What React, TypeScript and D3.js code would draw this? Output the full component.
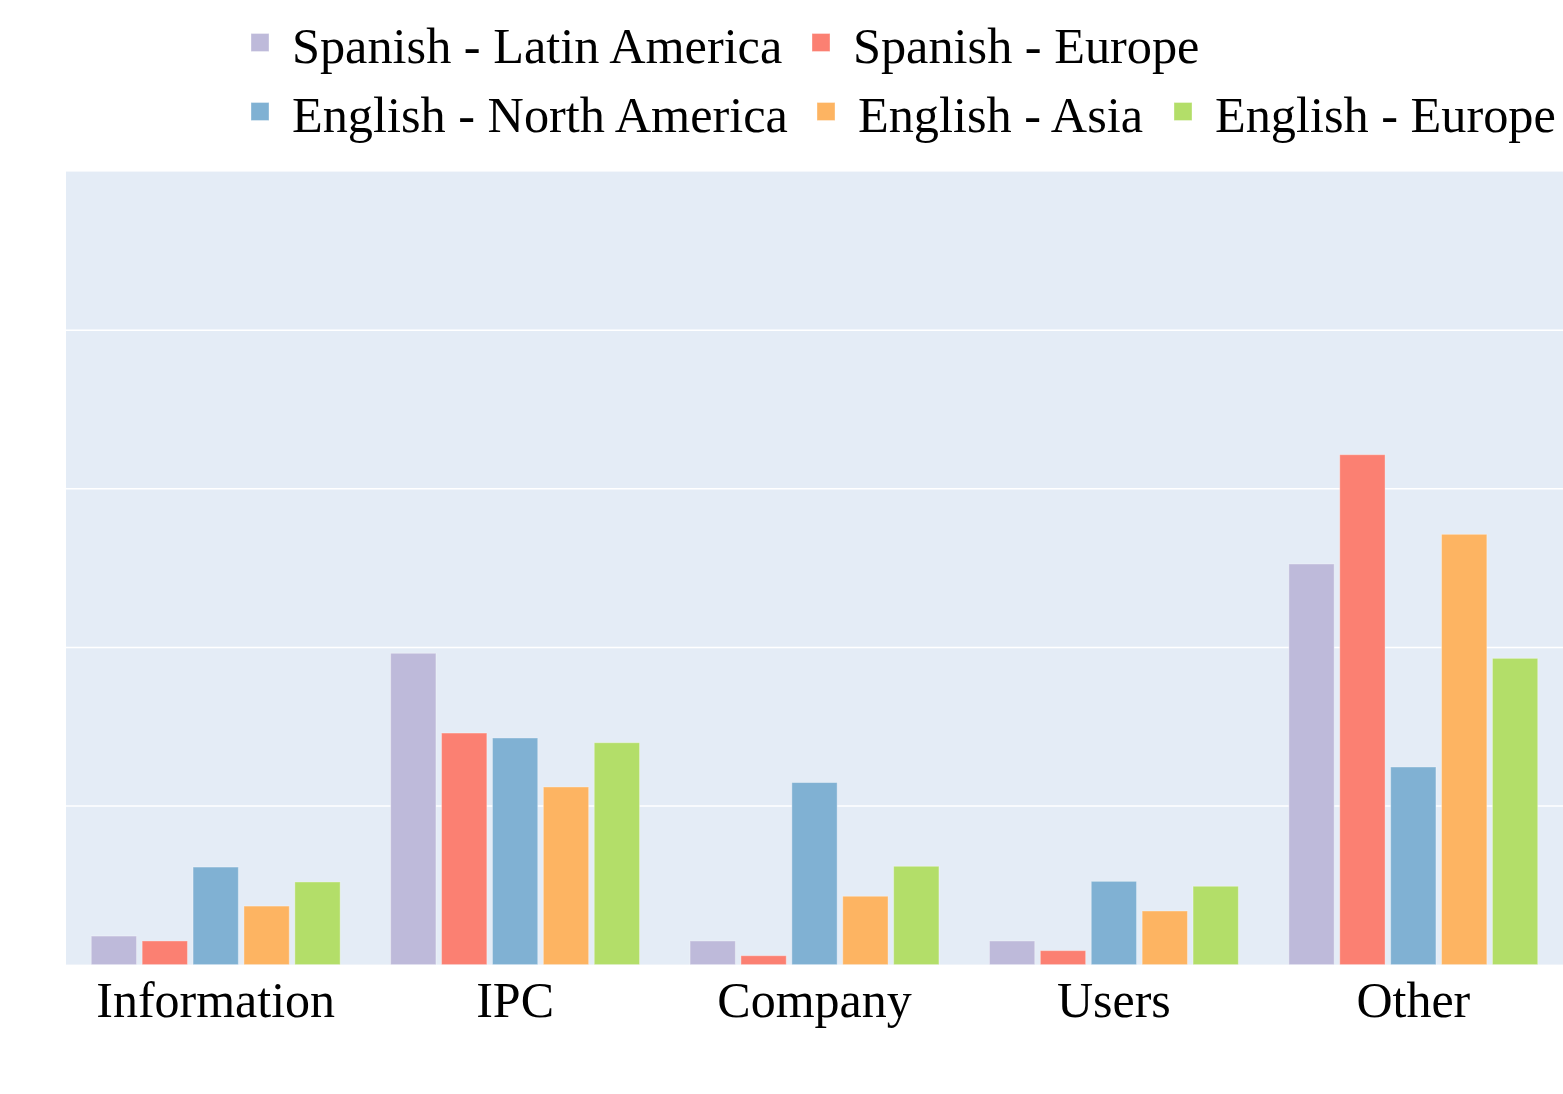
import React from "react";
import * as d3 from "d3";

const categories = ["Information", "IPC", "Company", "Users", "Other"];
const seriesNames = [
  "Spanish - Latin America",
  "Spanish - Europe",
  "English - North America",
  "English - Asia",
  "English - Europe",
];
const spanishLatinAmerica = [1.8, 19.63, 1.49, 1.49, 25.26];
const spanishEurope = [1.49, 14.6, 0.56, 0.88, 32.15];
const englishNorthAmerica = [6.15, 14.29, 11.48, 5.25, 12.46];
const englishAsia = [3.69, 11.2, 4.31, 3.38, 27.13];
const englishEurope = [5.21, 13.99, 6.2, 4.94, 19.31];
const seriesColors = ["#bebada", "#fb8072", "#80b1d3", "#fdb462", "#b3de69"];
const yTicks = [0, 10, 20, 30, 40, 50];

const seriesValues = [
  spanishLatinAmerica,
  spanishEurope,
  englishNorthAmerica,
  englishAsia,
  englishEurope,
];

// legend rows: indices of series per row
const legendRows = [
  [0, 1],
  [2, 3, 4],
];
const legendTextX = [
  [292, 853],
  [292, 858, 1215],
];
const legendBaselines = [62.5, 131.5];

const W = 1563;
const H = 1094;
const plot = { left: 66, right: 1563, top: 171.6, bottom: 964.6 };
const FONT = "'Liberation Serif', 'Times New Roman', serif";

export default function App() {
  const x0 = d3
    .scaleBand<string>()
    .domain(categories)
    .range([plot.left, plot.right])
    .padding(0);
  const bw = x0.bandwidth();
  const x1 = d3
    .scaleBand<string>()
    .domain(seriesNames)
    .range([bw * 0.075, bw * 0.925])
    .paddingInner(0.11)
    .paddingOuter(0.055);
  const y = d3.scaleLinear().domain([0, 50]).range([plot.bottom, plot.top]);

  return (
    <svg
      width={W}
      height={H}
      style={{ position: "absolute", left: 0, top: 0, background: "#fff" }}
    >
      <rect
        x={plot.left}
        y={plot.top}
        width={plot.right - plot.left}
        height={plot.bottom - plot.top}
        fill="#e4ecf6"
      />
      {yTicks.slice(1, -1).map((t) => (
        <line
          key={t}
          x1={plot.left}
          x2={plot.right}
          y1={y(t)}
          y2={y(t)}
          stroke="#ffffff"
          strokeWidth={1.5}
        />
      ))}
      {seriesValues.map((vals, si) =>
        vals.map((v, ci) => {
          const bx = (x0(categories[ci]) as number) + (x1(seriesNames[si]) as number);
          return (
            <rect
              key={`${si}-${ci}`}
              x={bx}
              y={y(v)}
              width={x1.bandwidth()}
              height={y(0) - y(v)}
              fill={seriesColors[si]}
              stroke="rgba(255,255,255,0.35)"
              strokeWidth={1}
            />
          );
        })
      )}
      {categories.map((c) => (
        <text
          key={c}
          x={(x0(c) as number) + bw / 2}
          y={1017}
          textAnchor="middle"
          fontFamily={FONT}
          fontSize={50}
          fill="#000"
        >
          {c}
        </text>
      ))}
      {legendRows.map((row, ri) =>
        row.map((si, k) => {
          const tx = legendTextX[ri][k];
          const by = legendBaselines[ri];
          return (
            <g key={si}>
              <rect
                x={tx - 41}
                y={by - 29}
                width={18}
                height={18}
                fill={seriesColors[si]}
                stroke="rgba(255,255,255,0.35)"
                strokeWidth={1}
              />
              <text x={tx} y={by} fontFamily={FONT} fontSize={50.3} fill="#000">
                {seriesNames[si]}
              </text>
            </g>
          );
        })
      )}
    </svg>
  );
}
